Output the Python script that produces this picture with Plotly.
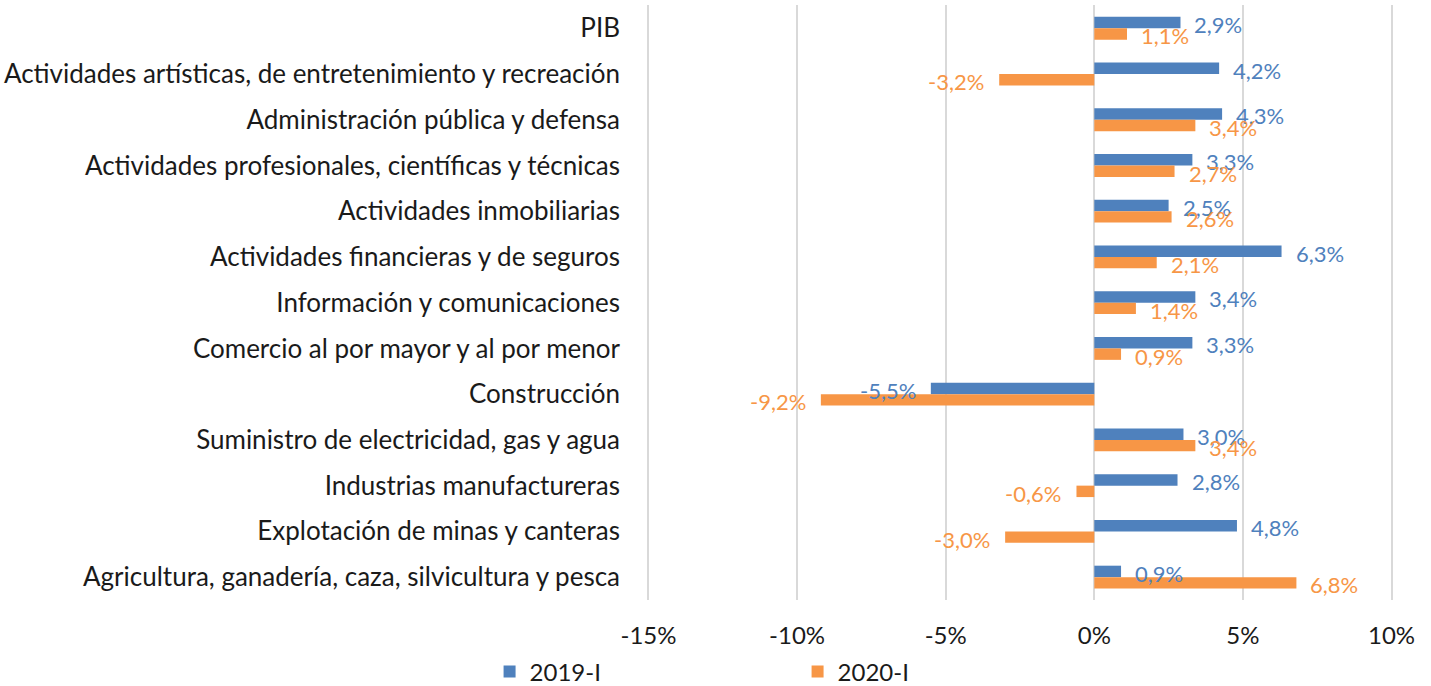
import plotly.graph_objects as go

categories = [
    "PIB",
    "Actividades artísticas, de entretenimiento y recreación",
    "Administración pública y defensa",
    "Actividades profesionales, científicas y técnicas",
    "Actividades inmobiliarias",
    "Actividades financieras y de seguros",
    "Información y comunicaciones",
    "Comercio al por mayor y al por menor",
    "Construcción",
    "Suministro de electricidad, gas y agua",
    "Industrias manufactureras",
    "Explotación de minas y canteras",
    "Agricultura, ganadería, caza, silvicultura y pesca",
]
values_2019 = [2.9, 4.2, 4.3, 3.3, 2.5, 6.3, 3.4, 3.3, -5.5, 3.0, 2.8, 4.8, 0.9]
values_2020 = [1.1, -3.2, 3.4, 2.7, 2.6, 2.1, 1.4, 0.9, -9.2, 3.4, -0.6, -3.0, 6.8]
series_names = ["2019-I", "2020-I"]
tick_vals = [-15, -10, -5, 0, 5, 10]
tick_text = ["-15%", "-10%", "-5%", "0%", "5%", "10%"]

BLUE = "#4F81BD"
ORANGE = "#F79646"
FONT = "Lato"
TXT = "#1a1a1a"

fig = go.Figure()
for name, vals, col in [(series_names[0], values_2019, BLUE), (series_names[1], values_2020, ORANGE)]:
    fig.add_trace(go.Bar(
        y=categories, x=vals, name=name, orientation="h",
        marker=dict(color=col, line=dict(width=0)),
    ))

def fmt(v):
    return f"{v:.1f}".replace(".", ",") + "%"

annotations = []
for vals, col, off in [(values_2019, BLUE, -0.125), (values_2020, ORANGE, 0.125)]:
    for i, v in enumerate(vals):
        annotations.append(dict(
            x=v, y=i + off, xref="x", yref="y",
            text=fmt(v), showarrow=False,
            xanchor="left" if v >= 0 else "right",
            xshift=12 if v >= 0 else -13,
            yshift=-2,
            font=dict(family=FONT, size=22, color=col),
        ))

fig.update_layout(
    width=1431, height=686,
    margin=dict(l=646.5, r=37.5, t=5, b=86, autoexpand=False),
    paper_bgcolor="white", plot_bgcolor="white",
    barmode="group", bargap=0.5, bargroupgap=0,
    font=dict(family=FONT, size=22, color=TXT),
    annotations=annotations,
    showlegend=True,
    legend=dict(
        orientation="h", x=(491 - 648) / 744, xanchor="left",
        y=-0.121, yanchor="middle",
        entrywidth=263, entrywidthmode="pixels",
        font=dict(family=FONT, size=24, color=TXT),
        bgcolor="rgba(0,0,0,0)",
    ),
    xaxis=dict(
        range=[-15.05, 10.05], tickvals=tick_vals, ticktext=tick_text,
        showgrid=True, gridcolor="#D9D9D9", gridwidth=1.5,
        zeroline=True, zerolinecolor="#D9D9D9", zerolinewidth=1.5,
        showline=False, ticks="", ticklabelstandoff=19,
        tickfont=dict(family=FONT, size=24, color=TXT),
        fixedrange=True, automargin=False,
    ),
    yaxis=dict(
        type="category", categoryorder="array", categoryarray=categories,
        autorange="reversed", showgrid=False, zeroline=False, showline=False,
        ticks="", ticklabelstandoff=26,
        tickfont=dict(family=FONT, size=26, color=TXT),
        fixedrange=True, automargin=False,
    ),
)

fig.write_html("out.html", config={"displayModeBar": False},
               post_script="document.body.style.margin='0px';")
